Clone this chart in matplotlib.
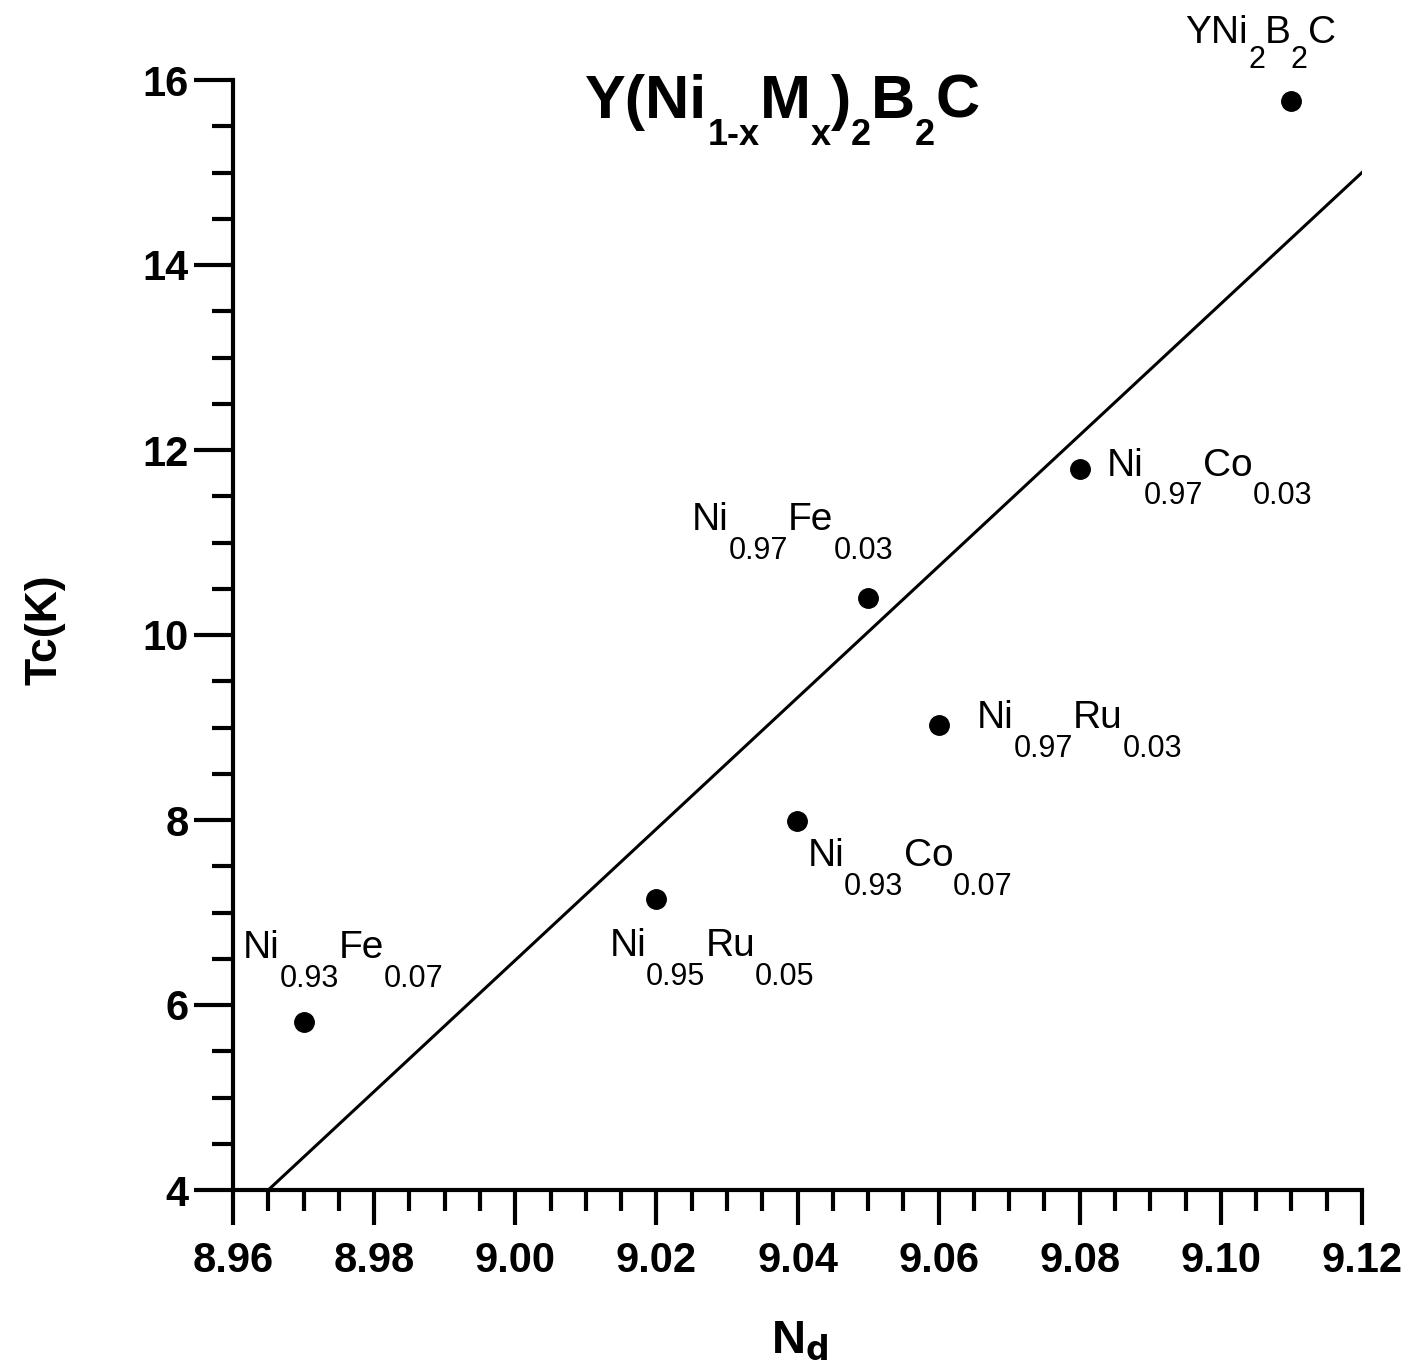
import re
import matplotlib
matplotlib.use('Agg')
import matplotlib.pyplot as plt
from matplotlib.ticker import MultipleLocator
from matplotlib.transforms import offset_copy, IdentityTransform

plt.rcParams['font.family'] = ['Liberation Sans', 'DejaVu Sans']

# dane z wykresu
nd = [8.97, 9.02, 9.04, 9.05, 9.06, 9.08, 9.11]
tc = [5.82, 7.15, 7.99, 10.4, 9.03, 11.8, 15.77]
etykiety = ['Ni_{0.93}Fe_{0.07}', 'Ni_{0.95}Ru_{0.05}', 'Ni_{0.93}Co_{0.07}',
            'Ni_{0.97}Fe_{0.03}', 'Ni_{0.97}Ru_{0.03}', 'Ni_{0.97}Co_{0.03}',
            'YNi_{2}B_{2}C']
# przesuniecia etykiet w pikselach (linia bazowa) i spadek indeksu
przesuniecia = [(-61, 64), (-47, -57), (10, -45), (-176, 68), (38, -3), (27, -7), (-106, 58)]
spadki = [29, 29, 29, 29, 29, 29, 25]
tytul = 'Y(Ni_{1-x}M_{x})_{2}B_{2}C'

# prosta dopasowania
prosta_x = [8.965, 9.12]
prosta_y = [4.0, 15.0]

fig = plt.figure(figsize=(14.26, 13.69), dpi=100)
ax = fig.add_axes([233 / 1426, 1 - 1190 / 1369, 1129 / 1426, 1110 / 1369])
renderer = fig.canvas.get_renderer()


def wzor(x, y, tekst, transform, dx, dy, rozmiar, rozmiar_sub, spadek, waga='normal'):
    # rysuje wzor chemiczny z indeksami dolnymi kawalek po kawalku
    czesci = re.split(r'_\{(.*?)\}', tekst)
    for i, cz in enumerate(czesci):
        if cz == '':
            continue
        sub = i % 2 == 1
        tr = offset_copy(transform, fig=fig, x=dx, y=dy - (spadek if sub else 0), units='dots')
        t = ax.text(x, y, cz, transform=tr, fontsize=rozmiar_sub if sub else rozmiar,
                    fontweight=waga, ha='left', va='baseline', clip_on=False)
        dx += t.get_window_extent(renderer).width


ax.plot(prosta_x, prosta_y, color='black', linewidth=2.2)
ax.plot(nd, tc, 'o', color='black', markersize=14)

for x, y, txt, off, sp in zip(nd, tc, etykiety, przesuniecia, spadki):
    wzor(x, y, txt, ax.transData, off[0], off[1], 28, 22, sp)

wzor(585, 1369 - 118, tytul, IdentityTransform(), 0, 0, 44, 26, 27, waga='bold')

ax.set_xlim(8.96, 9.12)
ax.set_ylim(4, 16)
ax.xaxis.set_major_locator(MultipleLocator(0.02))
ax.xaxis.set_minor_locator(MultipleLocator(0.005))
ax.yaxis.set_major_locator(MultipleLocator(2))
ax.yaxis.set_minor_locator(MultipleLocator(0.5))
ax.xaxis.set_major_formatter(lambda v, pos: '%.2f' % v)

for s in ['top', 'right']:
    ax.spines[s].set_visible(False)
for s in ['left', 'bottom']:
    ax.spines[s].set_linewidth(3)

ax.tick_params(which='major', length=28, width=3, labelsize=30, direction='out')
ax.tick_params(which='minor', length=15, width=3, direction='out')
ax.tick_params(axis='x', which='major', length=25, pad=12)
ax.tick_params(axis='y', which='major', pad=4)
for lab in ax.get_xticklabels() + ax.get_yticklabels():
    lab.set_fontweight('bold')

fig.text(800 / 1426, 1 - 1340 / 1369, r'N$_\mathbf{d}$', fontsize=34, fontweight='bold',
         ha='center', va='center')
fig.text(45 / 1426, 1 - 630 / 1369, 'Tc(K)', fontsize=32, fontweight='bold',
         rotation=90, ha='center', va='center')

plt.savefig('out.png', dpi=100)
